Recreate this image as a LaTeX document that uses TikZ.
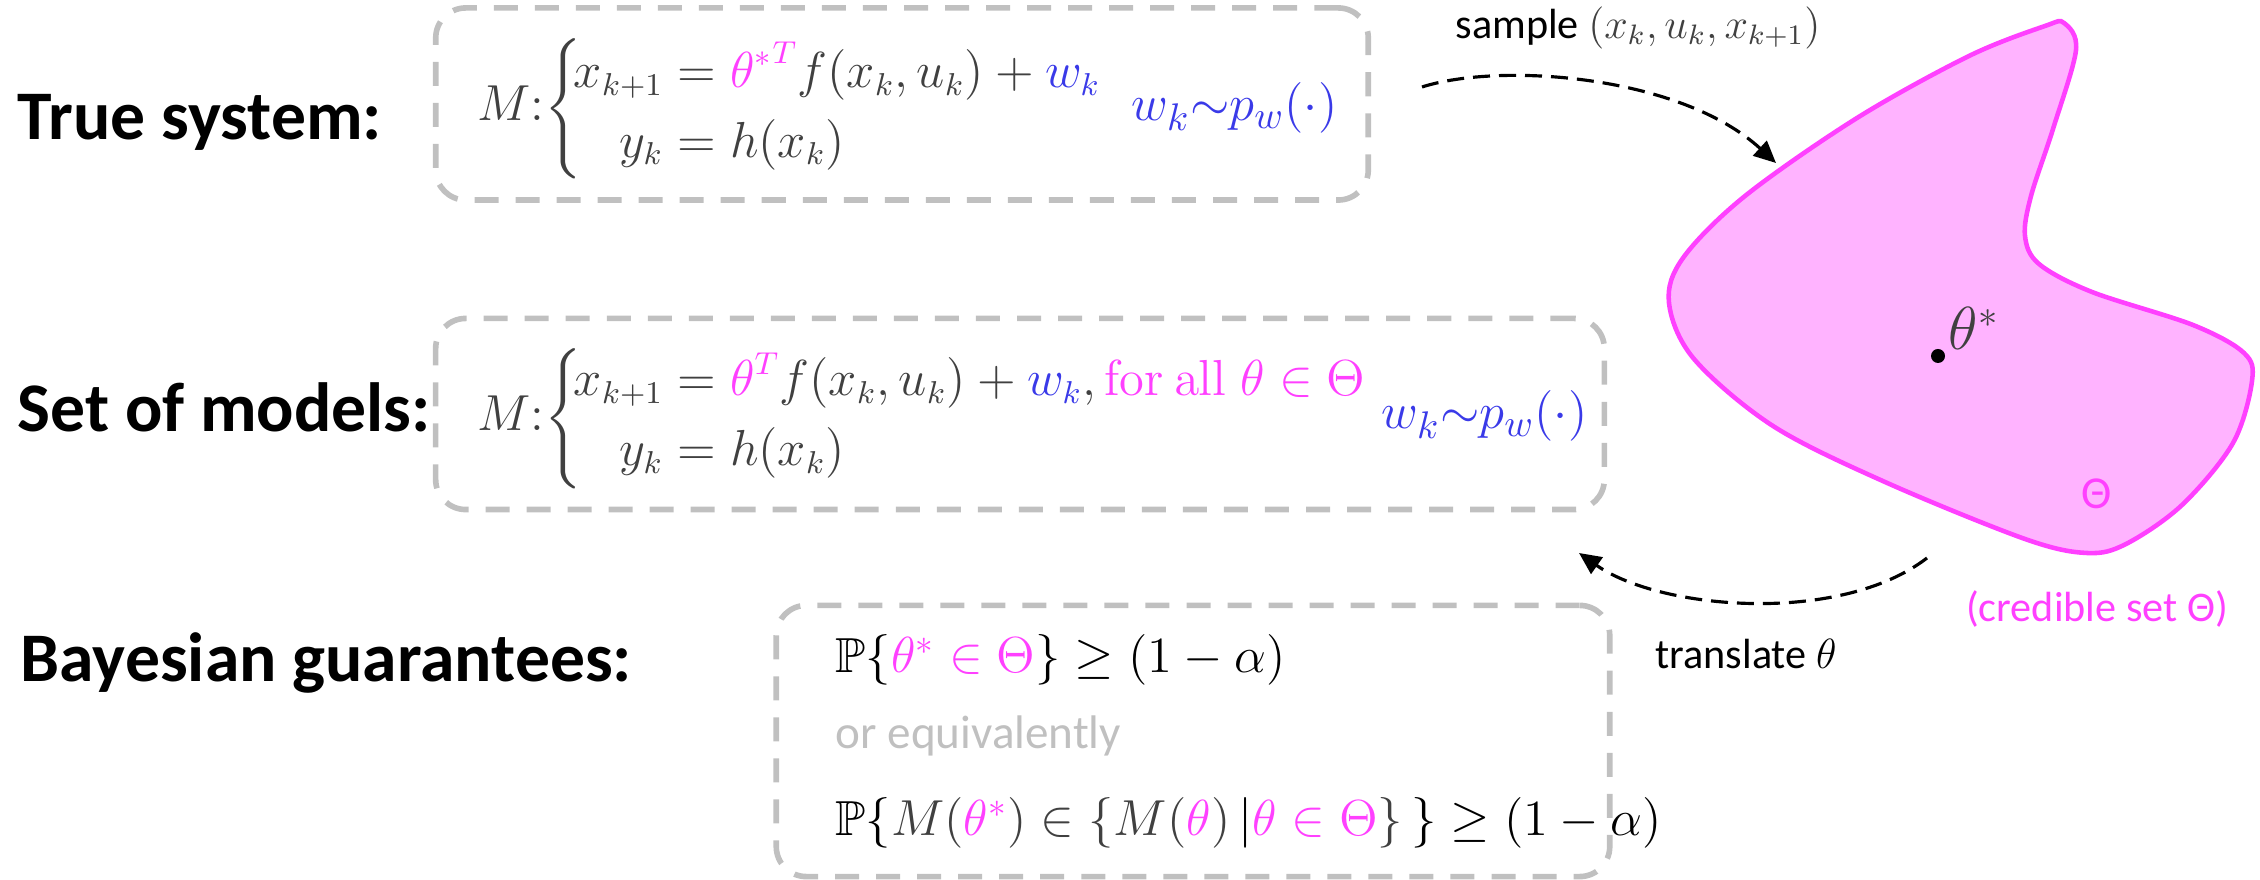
\documentclass[tikz,border=0pt]{standalone}
\usepackage{amsmath,amssymb}
\usepackage[no-math]{fontspec}
\setmainfont{Carlito}
\usetikzlibrary{arrows.meta}

\definecolor{thetapink}{HTML}{FF40FF}
\definecolor{setfill}{HTML}{FFB3FF}
\definecolor{noiseblue}{HTML}{3A3AE8}
\definecolor{mathgray}{HTML}{404040}
\definecolor{boxgray}{HTML}{C0C0C0}

\newcommand{\pk}[1]{\textcolor{thetapink}{#1}}
\newcommand{\bl}[1]{\textcolor{noiseblue}{#1}}
\newcommand{\gr}[1]{\textcolor{mathgray}{#1}}

\tikzset{
  modelbox/.style={draw=boxgray, line width=1.6pt, dash pattern=on 0.24cm off 0.17cm,
    rounded corners=0.3cm, inner sep=0pt},
  rowlabel/.style={anchor=base west, inner sep=0pt, font=\fontsize{19.8}{24}\selectfont\bfseries},
  eqn/.style={inner sep=0pt, text=mathgray, font=\fontsize{13.3}{17}\selectfont},
  smalltext/.style={inner sep=0pt, font=\fontsize{12}{14}\selectfont},
  flowarrow/.style={line width=0.9pt, dash pattern=on 0.17cm off 0.09cm,
    -{Triangle[length=0.22cm,width=0.2cm]}},
}

\begin{document}
\begin{tikzpicture}[x=0.01cm,y=-0.01cm]
  \useasboundingbox (0,0) rectangle (2260,880);

  \node[rowlabel] (truelabel) at (17,140) {True system:};
  \node[rowlabel] (setlabel) at (17,432) {Set of models:};
  \node[rowlabel] (guarlabel) at (20,682) {Bayesian guarantees:};

  \node[modelbox, minimum width=9.32cm, minimum height=1.92cm] (truebox) at (902,104) {};
  \node[modelbox, minimum width=11.68cm, minimum height=1.91cm] (setbox) at (1020,414) {};
  \node[modelbox, minimum width=8.33cm, minimum height=2.71cm] (guarbox) at (1193,741) {};

  \setlength{\jot}{2.8pt}
  \node[eqn, anchor=base west] (truemodel) at (477,121)
    {$M{:}\!\left\{\!\!\begin{aligned} x_{k+1} &= \pk{{\theta^{*}}^{T}} f(x_k,u_k) + \bl{w_k}\\
      y_k &= h(x_k)\end{aligned}\right.$};
  \node[eqn, anchor=base east, font=\fontsize{15}{17}\selectfont] (truenoise) at (1338,121)
    {$\bl{w_k{\sim}p_w(\cdot)}$};

  \node[eqn, anchor=base west] (setmodel) at (477,431)
    {$M{:}\!\left\{\!\!\begin{aligned} x_{k+1} &= \pk{\theta^{T}} f(x_k,u_k) + \bl{w_k},
      \pk{\mathrm{for\ all}\;\theta\in\Theta}\\
      y_k &= h(x_k)\end{aligned}\right.$};
  \node[eqn, anchor=base east, font=\fontsize{15}{17}\selectfont] (setnoise) at (1588,429)
    {$\bl{w_k{\sim}p_w(\cdot)}$};

  \node[eqn, text=black, anchor=base west, font=\fontsize{14}{16}\selectfont] (probone) at (835,673)
    {$\mathbb{P}\{\pk{\theta^{*}\in\Theta}\}\geq(1-\alpha)$};
  \node[smalltext, text=boxgray, anchor=base west, font=\fontsize{13.4}{15}\selectfont] (equiv) at (835,749)
    {or equivalently};
  \node[eqn, text=black, anchor=base west, font=\fontsize{14}{16}\selectfont] (probtwo) at (835,836)
    {$\mathbb{P}\{\gr{M(}\pk{\theta^{*}}\gr{)\in\{M(}\pk{\theta}\gr{)}\,|\pk{\theta\in\Theta}\gr{\}}\,\}\geq(1-\alpha)$};

  \draw[thetapink, line width=1.3pt, fill=setfill] plot[smooth cycle, tension=0.55] coordinates {
    (2064,23) (2076,50) (2053,129) (2031,196) (2025,236) (2039,264) (2092,292)
    (2193,325) (2244,353) (2252,381) (2233,443) (2182,505) (2126,544) (2087,553)
    (2025,539) (1885,482) (1773,426) (1694,359) (1669,303) (1683,258) (1745,196)
    (1857,118) (1969,56) (2045,26)};
  \fill (1938,356) circle (0.07cm);
  \node[eqn, anchor=south west, font=\fontsize{16}{18}\selectfont] (thetastar) at (1948,350) {$\theta^{*}$};
  \node[smalltext, text=thetapink, font=\fontsize{13}{15}\selectfont] (thetain) at (2097,494) {Θ};
  \node[smalltext, text=thetapink] (credible) at (2097,609) {(credible set Θ)};

  \coordinate (samplefrom) at (1422,87);
  \coordinate (sampleto) at (1776,163);
  \coordinate (transfrom) at (1927,558);
  \coordinate (transto) at (1579,553);
  \draw[flowarrow] (samplefrom) .. controls (1500,62) and (1680,75) .. (sampleto);
  \draw[flowarrow] (transfrom) .. controls (1840,625) and (1660,610) .. (transto);
  \node[smalltext] (samplelabel) at (1638,28) {sample \gr{$(x_k,u_k,x_{k+1})$}};
  \node[smalltext] (translabel) at (1746,654) {translate $\theta$};
\end{tikzpicture}
\end{document}
